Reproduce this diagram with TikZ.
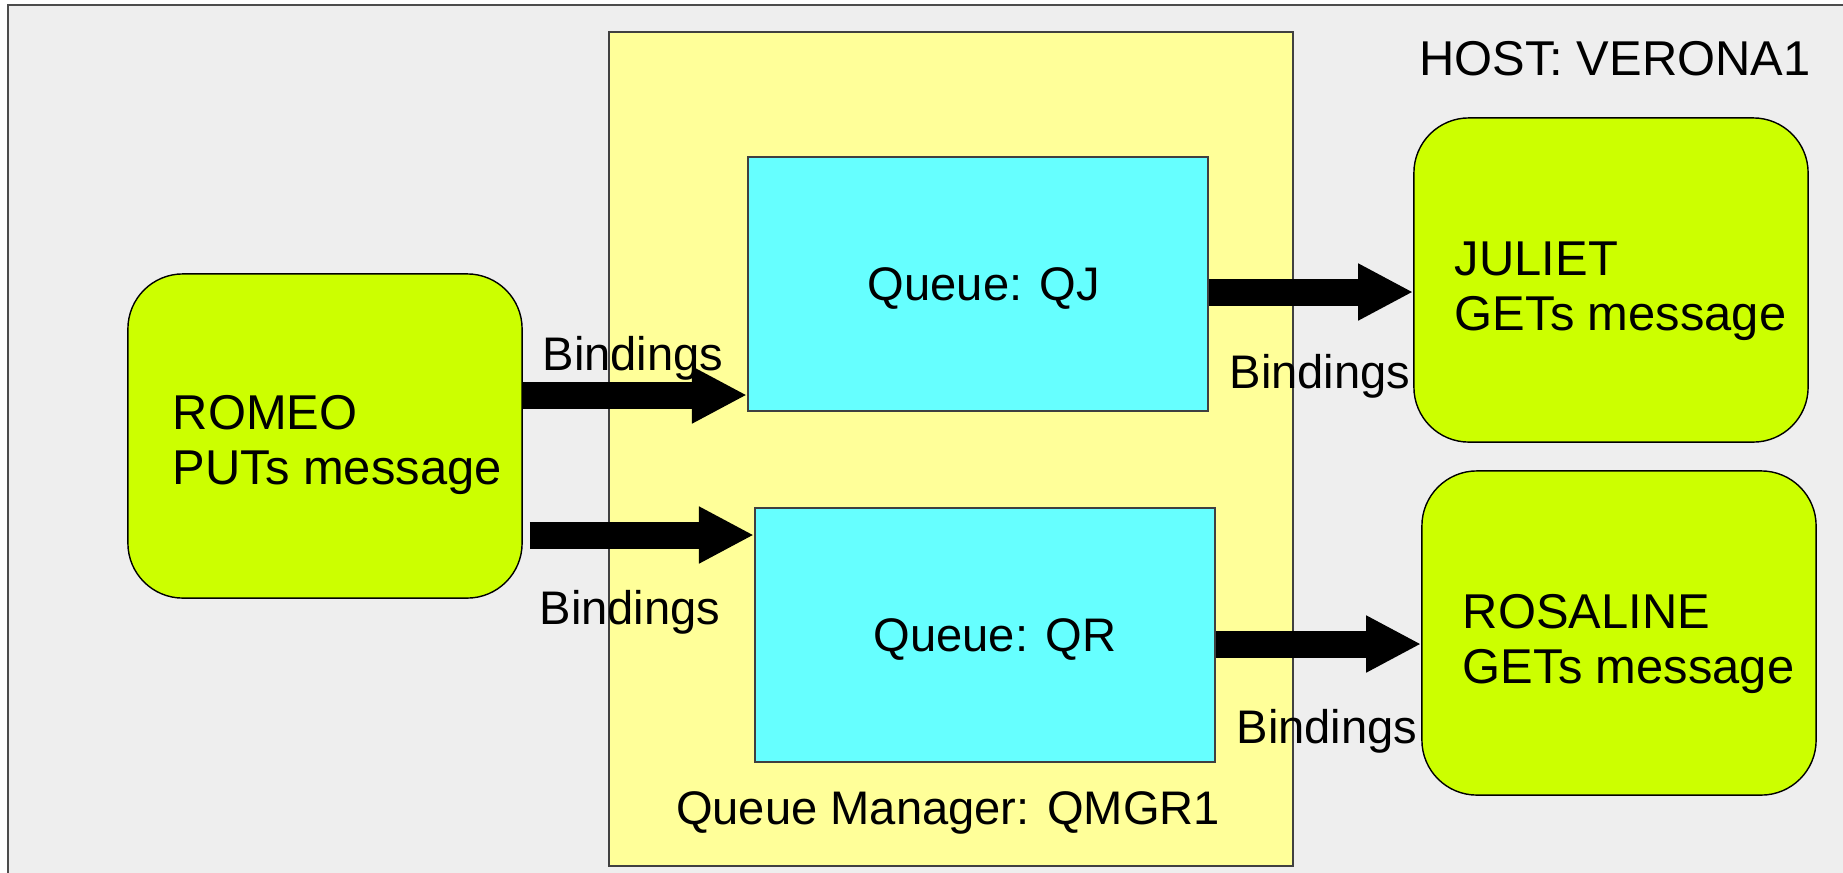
\documentclass[tikz,border=0pt]{standalone}
\usepackage{fontspec}
\setmainfont{Liberation Sans}
\usepackage{xcolor}
\usepackage{tikz}
\usetikzlibrary{arrows.meta}

\definecolor{bggray}{HTML}{EEEEEE}
\definecolor{qmgryellow}{HTML}{FFFF99}
\definecolor{queuecyan}{HTML}{66FFFF}
\definecolor{appgreen}{HTML}{CCFF00}

\tikzset{
    every node/.style={font=\fontsize{13.4}{15.6}\selectfont},
    bigtext/.style={font=\fontsize{13.9}{15.6}\selectfont},
    qmgrbox/.style={draw=black!75, fill=qmgryellow, line width=0.5pt, minimum width=6.84cm, minimum height=8.34cm},
    queuebox/.style={draw=black!75, fill=queuecyan, line width=0.5pt, text depth=0pt, minimum width=4.6cm, minimum height=2.54cm},
    appbox/.style={draw=black, fill=appgreen, line width=0.4pt, rounded corners=5.5mm, minimum width=3.94cm, minimum height=3.24cm},
    apptext/.style={bigtext, anchor=west, align=left, inner sep=0pt, text depth=0pt},
    bigarrow/.style={line width=2.7mm, -{Triangle[length=5.5mm,width=5.3mm]}},
    bindlabel/.style={anchor=base}
}

\begin{document}
\begin{tikzpicture}[x=0.01cm, y=-0.01cm]
        \useasboundingbox (0,0) rectangle (1843,872);
        \draw[draw=black!70, fill=bggray, line width=0.8pt] (8,5) rectangle (1870,895);

        \node[qmgrbox] (qmgr) at (951,449) {};
        \node (qmgrlabel) at (948,813) {Queue Manager: QMGR1};
        \node[bigtext] (host) at (1615,59) {HOST: VERONA1};

        \node[queuebox] (qj) at (978,284) {\hspace*{0.12cm}Queue: QJ};
        \node[queuebox] (qr) at (985,635) {\hspace*{0.2cm}Queue: QR};

        \node[appbox] (romeo) at (325,436) {};
        \node[apptext] (romeotext) at ([xshift=4.5mm, yshift=-0.4mm]romeo.west) {ROMEO\\PUTs message};
        \node[appbox] (juliet) at (1611,280) {};
        \node[apptext] (juliettext) at ([xshift=4.1mm, yshift=-0.6mm]juliet.west) {JULIET\\GETs message};
        \node[appbox] (rosaline) at (1619,633) {};
        \node[apptext] (rosalinetext) at ([xshift=4.1mm, yshift=-0.6mm]rosaline.west) {ROSALINE\\GETs message};

        \draw[bigarrow] (romeo.east |- 0,395) -- (qj.west |- 0,395);
        \draw[bigarrow, shorten <=0.7mm] (romeo.east |- 0,535) -- (qr.west |- 0,535);
        \draw[bigarrow] (qj.east |- 0,292) -- (juliet.west |- 0,292);
        \draw[bigarrow] (qr.east |- 0,644) -- (rosaline.west |- 0,644);

        \node[bindlabel] (bind1) at (633,370) {Bindings};
        \node[bindlabel] (bind2) at (630,624) {Bindings};
        \node[bindlabel] (bind3) at (1320,388) {Bindings};
        \node[bindlabel] (bind4) at (1327,743) {Bindings};
    \end{tikzpicture}
\end{document}
